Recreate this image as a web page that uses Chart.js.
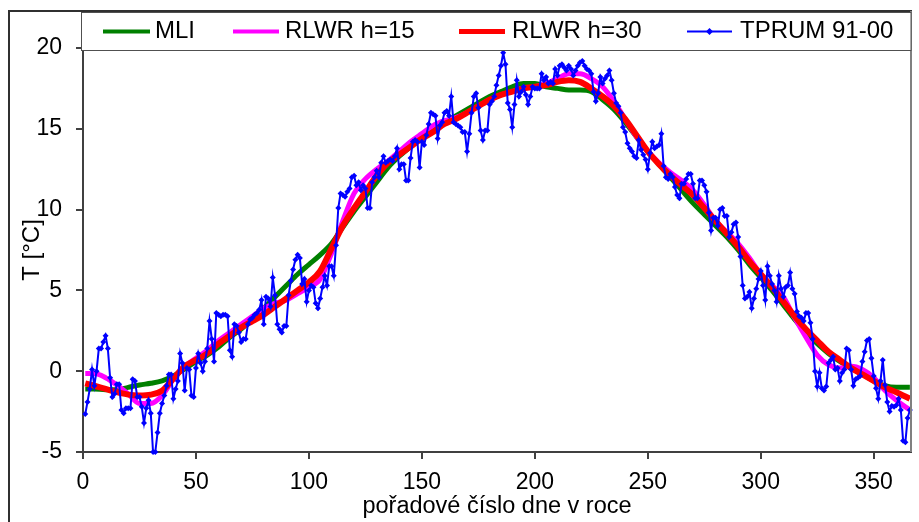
<!DOCTYPE html>
<html>
<head>
<meta charset="utf-8">
<script src="https://cdn.jsdelivr.net/npm/chart.js@4/dist/chart.umd.min.js"></script>
<style>
  html, body { margin: 0; padding: 0; background: #ffffff; }
  #c { display: block; }
</style>
</head>
<body>
<canvas id="c" width="919" height="522"></canvas>
<script>
// ---- DATA ----
const seriesNames = ['MLI', 'RLWR h=15', 'RLWR h=30', 'TPRUM 91-00'];
const xTicks = [0, 50, 100, 150, 200, 250, 300, 350];
const yTicks = [-5, 0, 5, 10, 15, 20];
const xTitle = 'pořadové číslo dne v roce';
const yTitle = 'T [°C]';

// daily mean temperature TPRUM 91-00, days 1..366
const tprum = [
  -2.65, -1.9, -1.1, 0.1, -0.9, 0.0, 1.4, 1.4, 1.8, 2.2,
  1.4, -0.4, -1.6, -1.4, -0.8, -0.8, -2.4, -2.6, -2.3, -2.3,
  -2.3, -0.5, -0.6, -1.6, -1.6, -2.2, -3.2, -2.3, -1.8, -2.6,
  -5.0, -5.0, -3.8, -2.6, -2.0, -1.5, -0.9, -0.2, -0.2, -1.7,
  -1.1, -0.6, 1.1, 0.5, -1.2, 0.2, 0.1, -1.5, -1.6, 0.2,
  1.1, 0.5, 0.0, 0.6, 1.4, 3.1, 2.0, 0.6, 3.6, 3.5,
  3.4, 3.5,
  3.5, 3.4, 1.3, 0.9, 2.9, 2.8, 2.4, 1.8,
  2.0, 2.0, 2.9, 3.2, 3.3, 3.5, 3.6, 3.8, 4.4, 2.9,
  4.6, 4.5, 4.0, 5.8, 4.7, 2.9, 2.6, 2.4, 2.8, 2.8,
  4.7, 5.6, 6.3, 6.9, 7.2, 7.0, 5.4, 5.7, 4.3, 5.0,
  5.3, 5.2, 4.2, 3.9, 4.5, 5.2, 5.9, 5.3, 6.5, 6.5,
  5.9, 7.8, 10.1, 11.0, 10.9, 10.8, 11.1, 11.3, 12.0, 12.1,
  11.5, 11.7,
  11.2, 11.5, 11.3, 10.1, 10.1, 11.7, 12.0, 12.4,
  12.0, 12.9, 13.3, 12.9, 13.0, 13.1, 13.0, 13.3, 13.8, 12.5,
  12.8, 12.8, 11.8, 11.8, 13.2, 14.2, 14.3, 14.2, 12.6, 14.2,
  14.0, 14.6, 15.3, 16.0, 15.9, 15.8, 14.4, 15.2, 15.4, 16.0,
  16.1, 15.8, 17.0, 15.4, 15.3, 15.2, 15.1, 14.8, 14.8, 13.6,
  14.7, 16.0, 17.0, 17.2, 16.3, 14.9, 14.3, 14.9, 14.9, 16.5,
  16.7, 17.0, 17.7, 18.3,
  18.9, 19.7, 19.0, 16.6, 16.2, 15.1,
  16.5, 18.0, 17.0, 17.3, 17.6, 17.1, 16.5, 17.0, 17.6, 17.5,
  17.5, 17.5, 18.4, 18.0, 18.2, 17.8, 17.9, 17.8, 18.7, 18.3,
  18.9, 19.0, 18.8, 18.6, 18.9, 18.7, 18.3, 18.6, 18.9, 19.1,
  19.2, 18.9, 18.7, 18.6, 18.4, 17.3, 16.7, 17.2, 18.2, 17.8,
  18.1, 18.3, 18.6, 18.0, 17.2, 16.6, 16.4, 16.0, 15.1, 14.8,
  14.1, 13.8, 13.6, 13.3,
  13.2, 14.3, 13.7, 13.4, 13.1, 12.5,
  13.5, 14.2, 13.8, 13.9, 14.0, 14.7, 12.7, 12.0, 11.9, 12.2,
  12.0, 11.4, 10.9, 10.7, 11.6, 11.6, 11.9, 12.2, 12.2, 11.6,
  10.7, 10.7, 11.8, 11.8, 11.5, 11.1, 9.8, 8.7, 9.5, 9.5,
  9.0, 10.0, 10.1, 9.6, 9.6, 8.3, 8.6, 9.1, 9.2, 8.3,
  7.1, 5.3, 4.5, 4.6, 4.9, 3.9, 4.5, 5.1, 5.7, 6.2,
  5.3, 4.4, 6.5, 5.9, 5.4,
  5.0, 4.3, 5.9, 5.1, 4.6,
  5.2, 5.3, 6.1, 5.1, 4.8, 3.7, 3.4, 3.3, 3.1, 3.6,
  3.6, 3.0, 2.0, 0.0, -0.95, -0.1, -1.05, -1.2, -0.95, 0.5,
  0.7, 0.9, 0.1, 0.2, -0.6, -0.1, 0.1, 1.4, 1.3, 0.1,
  -0.9, -0.5, -0.4, -0.3, 0.6, 1.2, 1.9, 2.0, 0.8, -0.3,
  -1.05, -1.7, -0.6, 0.7, -0.85, -1.9, -2.5, -2.15, -2.2, -2.1,
  -1.7, -2.4, -4.3, -4.4, -2.9, -2.4
];

// smoothed curves, read every 5 days
const smoothDays = [1, 5, 10, 15, 20, 25, 30, 35, 40, 45, 50, 55, 60, 65, 70, 75, 80, 85, 90, 95,
  100, 105, 110, 115, 120, 125, 130, 135, 140, 145, 150, 155, 160, 165, 170, 175, 180, 185, 190, 195,
  200, 205, 210, 215, 220, 225, 230, 235, 240, 245, 250, 255, 260, 265, 270, 275, 280, 285, 290, 295,
  300, 305, 310, 315, 320, 325, 330, 335, 340, 345, 350, 355, 360, 366];

const mli = [-1.1, -1.1, -1.15, -1.15, -1.0, -0.85, -0.75, -0.6, -0.3, 0.15, 0.6, 1.0, 1.5, 2.1, 2.6, 3.3, 3.9, 4.6, 5.3, 6.0,
  6.6, 7.2, 7.9, 8.9, 9.9, 10.8, 11.7, 12.6, 13.3, 13.9, 14.5, 15.0, 15.4, 15.8, 16.2, 16.6, 17.0, 17.3, 17.6, 17.8,
  17.8, 17.6, 17.5, 17.4, 17.4, 17.3, 16.8, 16.2, 15.4, 14.5, 13.6, 12.8, 12.0, 11.2, 10.4, 9.7, 9.0, 8.3, 7.5, 6.6,
  5.8, 5.0, 4.1, 3.2, 2.4, 1.7, 1.1, 0.6, 0.2, -0.2, -0.6, -0.9, -1.0, -1.0];

const rlwr15 = [-0.15, -0.15, -0.4, -0.85, -1.4, -2.0, -2.0, -1.5, -0.5, 0.3, 0.8, 1.3, 1.9, 2.4, 2.9, 3.4, 3.9, 4.2, 4.4, 4.8,
  5.2, 5.7, 7.3, 9.3, 11.0, 11.9, 12.5, 13.0, 13.6, 14.2, 14.7, 15.2, 15.5, 15.7, 16.0, 16.4, 16.8, 17.1, 17.3, 17.5,
  17.6, 17.8, 18.1, 18.4, 18.4, 18.1, 17.6, 16.7, 15.6, 14.5, 13.6, 12.9, 12.3, 11.8, 11.2, 10.3, 9.3, 8.6, 7.9, 7.0,
  6.0, 5.3, 4.6, 3.3, 2.1, 1.0, 0.4, 0.2, 0.3, 0.1, -0.4, -1.2, -1.8, -2.4];

const rlwr30 = [-0.75, -0.9, -1.1, -1.3, -1.45, -1.5, -1.45, -1.2, -0.45, 0.3, 0.7, 1.1, 1.7, 2.2, 2.7, 3.1, 3.5, 4.0, 4.5, 5.0,
  5.5, 6.2, 7.6, 9.0, 10.1, 11.1, 12.1, 12.9, 13.4, 13.9, 14.4, 14.8, 15.3, 15.6, 16.0, 16.4, 16.8, 17.1, 17.3, 17.5,
  17.6, 17.7, 17.9, 18.0, 17.9, 17.5, 17.0, 16.4, 15.6, 14.6, 13.6, 12.8, 12.1, 11.5, 10.9, 10.1, 9.3, 8.5, 7.7, 6.8,
  6.0, 5.2, 4.3, 3.4, 2.6, 1.9, 1.2, 0.7, 0.2, -0.2, -0.6, -1.0, -1.3, -1.7];

const seriesColors = ['#008000', '#FF00FF', '#FF0000', '#0000FF'];

// ---- CHART ----
const FONT = '"Liberation Sans", Arial, sans-serif';
const toXY = (xs, ys) => ys.map((v, i) => ({ x: xs[i], y: v }));
const blueXY = tprum.map((v, i) => ({ x: i + 1, y: v }));

const frameLegendPlugin = {
  id: 'frameLegend',
  beforeDraw(chart) {
    const ctx = chart.ctx;
    ctx.save();
    ctx.fillStyle = '#ffffff';
    ctx.fillRect(0, 0, chart.width, chart.height);
    ctx.restore();
  },
  afterDraw(chart) {
    const ctx = chart.ctx;
    const ca = chart.chartArea;
    ctx.save();
    // outer frame
    ctx.strokeStyle = '#303030';
    ctx.lineWidth = 2;
    ctx.beginPath();
    ctx.moveTo(9, chart.height + 2);
    ctx.lineTo(9, 11);
    ctx.lineTo(912, 11);
    ctx.stroke();
    // right plot border
    ctx.strokeStyle = '#808080';
    ctx.lineWidth = 2;
    ctx.beginPath();
    ctx.moveTo(ca.right, 11);
    ctx.lineTo(ca.right, ca.bottom);
    ctx.stroke();
    // legend box
    ctx.fillStyle = '#ffffff';
    ctx.fillRect(81, 12, ca.right - 81, 38);
    ctx.strokeStyle = '#505050';
    ctx.lineWidth = 1;
    ctx.strokeRect(81.5, 12.5, ca.right - 81.5, 38);
    const items = [
      { x1: 103, x2: 150, tx: 155, lw: 4 },
      { x1: 233, x2: 279, tx: 285, lw: 4 },
      { x1: 459, x2: 505, tx: 512, lw: 5 },
      { x1: 687, x2: 732, tx: 740, lw: 2 }
    ];
    ctx.font = '24px ' + FONT;
    ctx.textBaseline = 'alphabetic';
    ctx.textAlign = 'left';
    items.forEach((it, i) => {
      ctx.strokeStyle = seriesColors[i];
      ctx.lineWidth = it.lw;
      ctx.beginPath();
      ctx.moveTo(it.x1, 31.5);
      ctx.lineTo(it.x2, 31.5);
      ctx.stroke();
      if (i === 3) {
        const cx = (it.x1 + it.x2) / 2;
        ctx.fillStyle = seriesColors[i];
        ctx.beginPath();
        ctx.moveTo(cx, 28); ctx.lineTo(cx + 3.5, 31.5); ctx.lineTo(cx, 35); ctx.lineTo(cx - 3.5, 31.5);
        ctx.closePath();
        ctx.fill();
      }
      ctx.fillStyle = '#000000';
      ctx.fillText(seriesNames[i], it.tx, 38);
    });
    ctx.restore();
  }
};

new Chart(document.getElementById('c'), {
  type: 'line',
  data: {
    datasets: [
      { label: seriesNames[3], data: blueXY, borderColor: seriesColors[3], backgroundColor: seriesColors[3],
        borderWidth: 2, pointStyle: 'rectRot', pointRadius: 3, pointBorderWidth: 0,
        pointBackgroundColor: seriesColors[3], order: 0, clip: false },
      { label: seriesNames[2], data: toXY(smoothDays, rlwr30), borderColor: seriesColors[2],
        borderWidth: 6, pointRadius: 0, cubicInterpolationMode: 'monotone', order: 1, clip: false },
      { label: seriesNames[1], data: toXY(smoothDays, rlwr15), borderColor: seriesColors[1],
        borderWidth: 5, pointRadius: 0, cubicInterpolationMode: 'monotone', order: 2, clip: false },
      { label: seriesNames[0], data: toXY(smoothDays, mli), borderColor: seriesColors[0],
        borderWidth: 5, pointRadius: 0, cubicInterpolationMode: 'monotone', order: 3, clip: false }
    ]
  },
  options: {
    responsive: false,
    animation: false,
    events: [],
    layout: { padding: { top: 48, right: 8, left: 0, bottom: 0 } },
    plugins: { legend: { display: false }, tooltip: { enabled: false } },
    scales: {
      x: {
        type: 'linear', min: 0, max: 366.5,
        afterFit(scale) { scale.height = 70; },
        afterBuildTicks(scale) { scale.ticks = xTicks.map(v => ({ value: v })); },
        ticks: { font: { family: FONT, size: 23 }, color: '#000', padding: 10, maxRotation: 0, includeBounds: false },
        grid: { drawOnChartArea: false, drawTicks: true, tickLength: 7, color: '#404040', lineWidth: 2 },
        border: { display: true, color: '#404040', width: 2 },
        title: { display: true, text: xTitle, font: { family: FONT, size: 23.5 }, color: '#000',
                 padding: { top: 0, bottom: 1 } }
      },
      y: {
        type: 'linear', min: -5, max: 20,
        afterFit(scale) { scale.width = 83; },
        afterBuildTicks(scale) { scale.ticks = yTicks.map(v => ({ value: v })); },
        ticks: { font: { family: FONT, size: 23 }, color: '#000', padding: 14 },
        grid: { drawOnChartArea: false, drawTicks: true, tickLength: 7, color: '#404040', lineWidth: 2 },
        border: { display: true, color: '#404040', width: 2 },
        title: { display: true, text: yTitle, font: { family: FONT, size: 24 }, color: '#000',
                 padding: { top: 18, bottom: 0 } }
      }
    }
  },
  plugins: [frameLegendPlugin]
});
</script>
</body>
</html>
